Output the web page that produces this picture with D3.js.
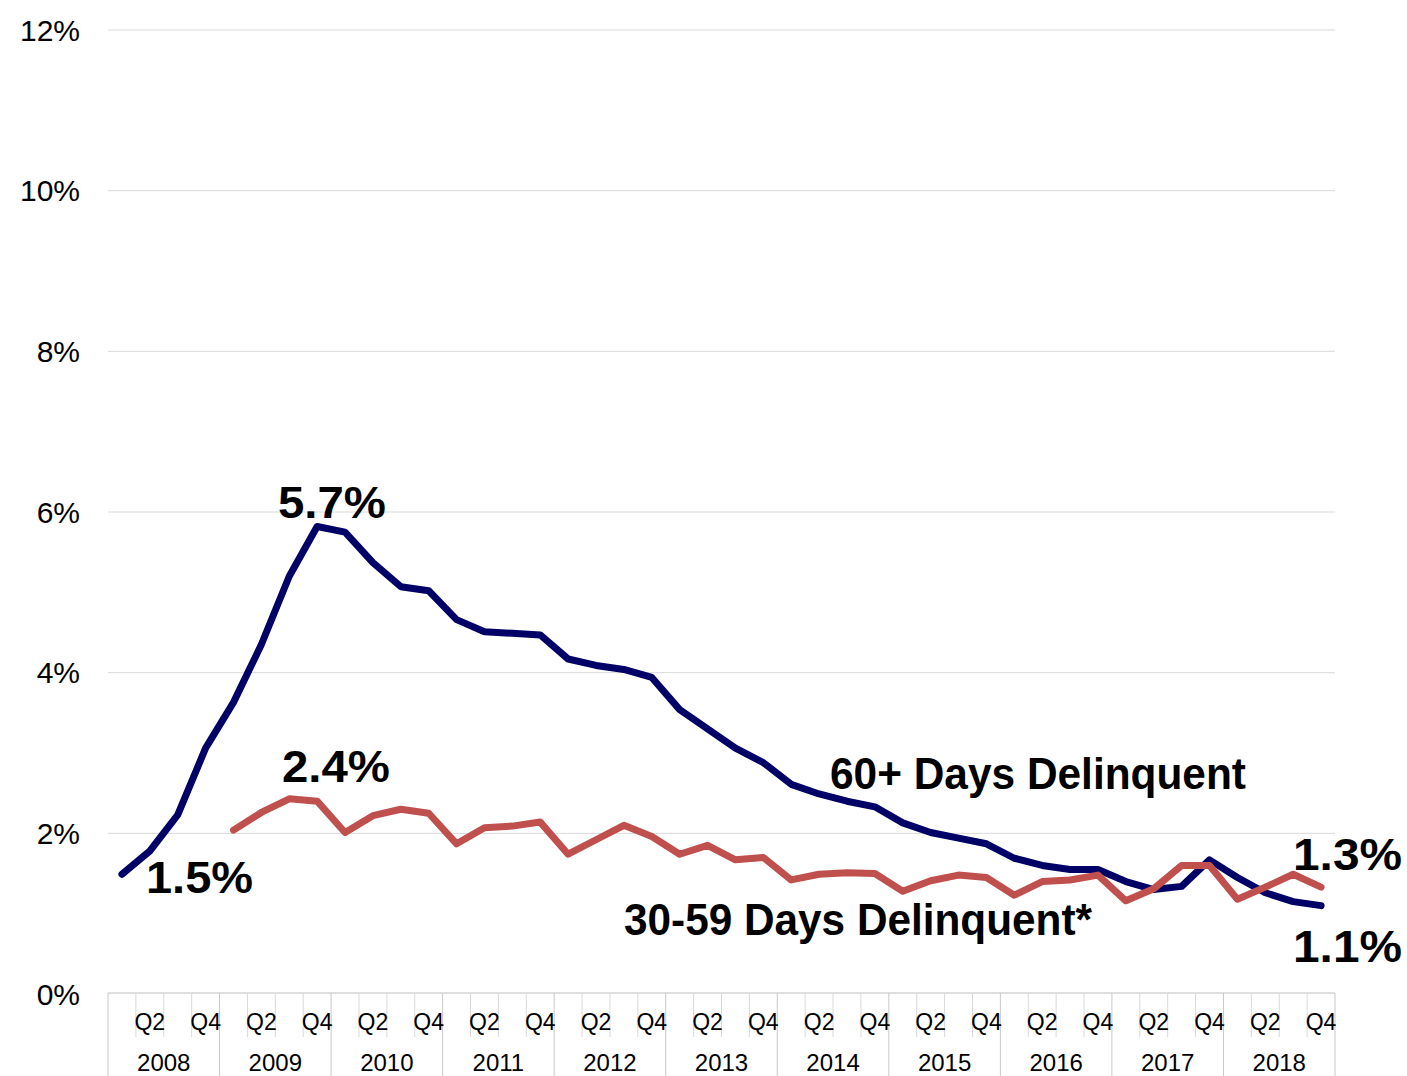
<!DOCTYPE html>
<html>
<head>
<meta charset="utf-8">
<script src="https://cdn.jsdelivr.net/npm/d3@7.9.0/dist/d3.min.js"></script>
<style>
  html, body { margin: 0; padding: 0; background: #fff; }
  svg { display: block; font-family: "Liberation Sans", Arial, sans-serif; }
</style>
</head>
<body>
<svg id="chart" width="1407" height="1076"></svg>
<script>
// data (percent)
const years = [2008, 2009, 2010, 2011, 2012, 2013, 2014, 2015, 2016, 2017, 2018];
const quarterNames = ['Q1', 'Q2', 'Q3', 'Q4'];
const yTicks = [0, 2, 4, 6, 8, 10, 12];

const days60 = [1.49, 1.78, 2.23, 3.06, 3.63, 4.35, 5.20, 5.82, 5.75, 5.37, 5.07, 5.02,
  4.66, 4.51, 4.49, 4.47, 4.17, 4.09, 4.04, 3.94, 3.54, 3.30, 3.06, 2.88,
  2.61, 2.49, 2.40, 2.33, 2.13, 2.01, 1.94, 1.87, 1.69, 1.60, 1.55, 1.55,
  1.40, 1.30, 1.34, 1.67, 1.45, 1.26, 1.15, 1.10];

const days30 = [null, null, null, null, 2.04, 2.26, 2.43, 2.40, 2.01, 2.22, 2.30, 2.25,
  1.87, 2.07, 2.09, 2.14, 1.74, 1.92, 2.10, 1.96, 1.74, 1.85, 1.67, 1.70,
  1.42, 1.49, 1.51, 1.50, 1.28, 1.41, 1.48, 1.45, 1.23, 1.40, 1.42, 1.48,
  1.16, 1.31, 1.60, 1.60, 1.18, 1.33, 1.49, 1.33];

const quarterKeys = years.flatMap(y => quarterNames.map(q => `${y} ${q}`));

const svg = d3.select('#chart');
const plotL = 108, plotR = 1335, plotT = 30, zeroY = 994, axisY = 993;

const x = d3.scaleBand().domain(quarterKeys).range([plotL, plotR]).padding(0);
const y = d3.scaleLinear().domain([0, 12]).range([zeroY, plotT]);

/* gridlines + y labels */
svg.append('g').selectAll('line')
  .data(yTicks.filter(t => t > 0))
  .join('line')
    .attr('x1', plotL).attr('x2', plotR)
    .attr('y1', d => y(d)).attr('y2', d => y(d))
    .attr('stroke', '#d9d9d9').attr('stroke-width', 1);

svg.append('g').selectAll('text')
  .data(yTicks)
  .join('text')
    .attr('x', 80).attr('y', d => y(d)).attr('dy', '0.36em')
    .attr('text-anchor', 'end')
    .attr('font-size', 30).attr('fill', '#000')
    .text(d => d + '%');

/* category axis: quarter cells + year cells */
const axis = svg.append('g');
axis.append('line')
  .attr('x1', plotL).attr('x2', plotR).attr('y1', axisY).attr('y2', axisY)
  .attr('stroke', '#bfbfbf');

axis.selectAll('line.q')
  .data(quarterKeys.filter(k => !k.endsWith('Q1')))
  .join('line')
    .attr('class', 'q')
    .attr('x1', d => x(d)).attr('x2', d => x(d))
    .attr('y1', axisY).attr('y2', 1037)
    .attr('stroke', '#d9d9d9');

axis.selectAll('line.yr')
  .data(years.map(yr => `${yr} Q1`).concat(['end']))
  .join('line')
    .attr('class', 'yr')
    .attr('x1', d => d === 'end' ? plotR : x(d))
    .attr('x2', d => d === 'end' ? plotR : x(d))
    .attr('y1', axisY).attr('y2', 1076)
    .attr('stroke', '#c8c8c8');

axis.selectAll('text.q')
  .data(quarterKeys.filter(k => k.endsWith('Q2') || k.endsWith('Q4')))
  .join('text')
    .attr('class', 'q')
    .attr('x', d => x(d) + x.bandwidth() / 2)
    .attr('y', 1030)
    .attr('text-anchor', 'middle')
    .attr('font-size', 23)
    .text(d => d.split(' ')[1]);

axis.selectAll('text.yr')
  .data(years)
  .join('text')
    .attr('class', 'yr')
    .attr('x', d => x(`${d} Q1`) + x.bandwidth() * 2)
    .attr('y', 1071)
    .attr('text-anchor', 'middle')
    .attr('font-size', 24)
    .text(d => d);

/* lines */
const line = d3.line()
  .defined(d => d.v != null)
  .x(d => x(d.k) + x.bandwidth() / 2)
  .y(d => y(d.v));

const series = [
  { name: '60', values: days60, color: '#000066' },
  { name: '30', values: days30, color: '#c0504d' }
];

svg.append('g').selectAll('path')
  .data(series)
  .join('path')
    .attr('d', s => line(s.values.map((v, i) => ({ k: quarterKeys[i], v }))))
    .attr('fill', 'none')
    .attr('stroke', s => s.color)
    .attr('stroke-width', 7)
    .attr('stroke-linejoin', 'round')
    .attr('stroke-linecap', 'round');

/* annotations */
const notes = [
  { t: '5.7%', x: 278, y: 518, w: 108 },
  { t: '2.4%', x: 282, y: 782, w: 108 },
  { t: '1.5%', x: 146, y: 893, w: 107 },
  { t: '1.3%', x: 1293, y: 870, w: 109 },
  { t: '1.1%', x: 1293, y: 962, w: 109 },
  { t: '60+ Days Delinquent', x: 830, y: 789, w: 416 },
  { t: '30-59 Days Delinquent*', x: 624, y: 935, w: 468 }
];

svg.append('g').selectAll('text')
  .data(notes)
  .join('text')
    .attr('x', d => d.x).attr('y', d => d.y)
    .attr('font-size', 45).attr('font-weight', 'bold')
    .attr('textLength', d => d.w)
    .attr('lengthAdjust', 'spacingAndGlyphs')
    .text(d => d.t);
</script>
</body>
</html>
